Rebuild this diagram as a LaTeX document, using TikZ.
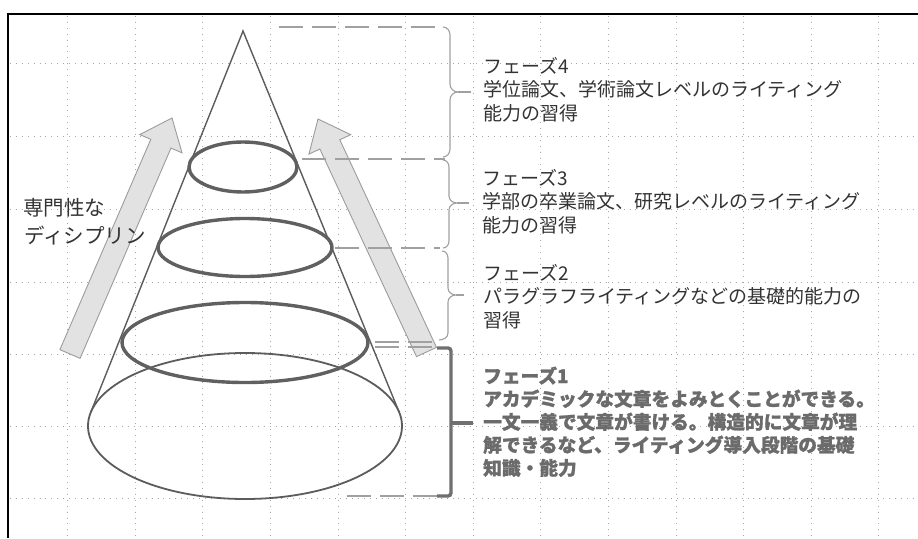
\documentclass[tikz,border=0pt]{standalone}
\usepackage{fontspec}
\usetikzlibrary{calc}
\newfontfamily\jp{Noto Sans CJK JP}
\newfontfamily\jpheavy[BoldFeatures={FakeBold=1.2}]{Noto Sans CJK JP}
\definecolor{gridc}{HTML}{A8A8A8}
\definecolor{conec}{HTML}{5C5C5C}
\definecolor{ringc}{HTML}{606060}
\definecolor{arrfill}{HTML}{E2E2E2}
\definecolor{arrdraw}{HTML}{9C9C9C}
\definecolor{dashc}{HTML}{A0A0A0}
\definecolor{bracec}{HTML}{A0A0A0}
\definecolor{b1c}{HTML}{707070}
\definecolor{txtc}{HTML}{333333}
\definecolor{p1c}{HTML}{6B6B6B}
\tikzset{
  gridst/.style={gridc, line width=0.8pt, dash pattern=on 0.9pt off 5pt},
  conest/.style={conec, line width=1.4pt},
  ringst/.style={ringc, line width=3.4pt},
  basest/.style={conec, line width=1.8pt},
  arrowst/.style={fill=arrfill, draw=arrdraw, line width=0.9pt, line join=miter},
  dashst/.style={dashc, line width=1.1pt, dash pattern=on 24pt off 9pt},
  bracest/.style={bracec, line width=1.1pt},
  bonest/.style={b1c, line width=3.4pt},
  txt/.style={anchor=base west, inner sep=0pt, text=txtc, font=\jp\fontsize{19}{19}\selectfont},
  ptxt/.style={anchor=base west, inner sep=0pt, text=p1c, font=\jpheavy\bfseries\fontsize{18.7}{18.7}\selectfont},
  ltxt/.style={anchor=base west, inner sep=0pt, text=txtc, font=\jp\fontsize{20.5}{20.5}\selectfont},
}
\begin{document}
\begin{tikzpicture}[x=1pt,y=-1pt]
\useasboundingbox (0,0) rectangle (918,538);
\fill[white] (0,0) rectangle (918,538);
% grid
\foreach \gx in {67,135,202,270,338,405,473,540,608,676,743,811,878}
  \draw[gridst] (\gx,16) -- (\gx,538);
\foreach \gy in {63,136,209,282,354,426,498}
  \draw[gridst] (10,\gy) -- (918,\gy);
% frame
\draw[black, line width=2pt] (918,14) -- (8,14) -- (8,538);
% arrows
\coordinate (la0) at (70,354);
\coordinate (la1) at (172,118);
\coordinate (lah) at ($(la1)!28pt!(la0)$);
\draw[arrowst] ($(la0)!11pt!90:(la1)$) -- ($(lah)!11pt!-90:(la0)$) -- ($(lah)!23pt!-90:(la0)$) -- (la1) -- ($(lah)!23pt!90:(la0)$) -- ($(lah)!11pt!90:(la0)$) -- ($(la0)!11pt!-90:(la1)$) -- cycle;
\coordinate (ra0) at (426.5,352);
\coordinate (ra1) at (318,119);
\coordinate (rah) at ($(ra1)!28pt!(ra0)$);
\draw[arrowst] ($(ra0)!11pt!90:(ra1)$) -- ($(rah)!11pt!-90:(ra0)$) -- ($(rah)!23pt!-90:(ra0)$) -- (ra1) -- ($(rah)!23pt!90:(ra0)$) -- ($(rah)!11pt!90:(ra0)$) -- ($(ra0)!11pt!-90:(ra1)$) -- cycle;
% cone
\coordinate (apex) at (243,31);
\coordinate (tl) at (90.7,412.5);
\coordinate (tr) at (399.3,412.5);
\draw[conest] (tl) -- (apex) -- (tr);
\draw[basest] (245,426) ellipse [x radius=157pt, y radius=73pt];
\draw[ringst] (243,167) ellipse [x radius=54pt, y radius=25pt];
\draw[ringst] (245,247.5) ellipse [x radius=87pt, y radius=29pt];
\draw[ringst] (245,342.5) ellipse [x radius=123pt, y radius=40pt];
% dashed guide lines
\draw[dashst] (279,27) -- (443,27);
\draw[dashst] (302,159) -- (445,159);
\draw[dashst] (335,248) -- (440,248);
\draw[dashst] (375,342) -- (432,342);
\draw[dashst] (375,347) -- (437,347);
\draw[dashst] (347,496) -- (437,496);
% braces
\draw[bracest] (443,27) to[out=0,in=90] (450,35) -- (450,84) to[out=-90,in=180] (458,92) to[out=180,in=90] (450,100) -- (450,149) to[out=-90,in=0] (443,157);
\draw[bracest] (458,92) -- (471,92);
\draw[bracest] (443,160) to[out=0,in=90] (449,167) -- (449,196) to[out=-90,in=180] (457,203) to[out=180,in=90] (449,210) -- (449,241) to[out=-90,in=0] (443,248);
\draw[bracest] (457,203) -- (469,203);
\draw[bracest] (442,251) to[out=0,in=90] (448,258) -- (448,288) to[out=-90,in=180] (456,295) to[out=180,in=90] (448,302) -- (448,333) to[out=-90,in=0] (439,340);
\draw[bracest] (456,295) -- (464,295);
\draw[bonest, rounded corners=3pt] (437,348) -| (451,496) -- (437,496);
\draw[bonest] (451,423) -- (473,423);
% texts
\node[ltxt] (d1) at (23,215) {専門性な};
\node[ltxt] (d2) at (24,243.5) {ディシプリン};
\node[txt] (p4a) at (483,73) {フェーズ4};
\node[txt] (p4b) at (483,96.5) {学位論文、学術論文レベルのライティング};
\node[txt] (p4c) at (483,120) {能力の習得};
\node[txt] (p3a) at (482,185) {フェーズ3};
\node[txt] (p3b) at (482,208.5) {学部の卒業論文、研究レベルのライティング};
\node[txt] (p3c) at (482,232) {能力の習得};
\node[txt] (p2a) at (483,280) {フェーズ2};
\node[txt] (p2b) at (483,303.5) {パラグラフライティングなどの基礎的能力の};
\node[txt] (p2c) at (483,327) {習得};
\node[ptxt] (p1a) at (483,383) {フェーズ1};
\node[ptxt] (p1b) at (483,406) {アカデミックな文章をよみとくことができる。};
\node[ptxt] (p1c) at (483,429) {一文一義で文章が書ける。構造的に文章が理};
\node[ptxt] (p1d) at (483,452) {解できるなど、ライティング導入段階の基礎};
\node[ptxt] (p1e) at (483,475) {知識・能力};
\end{tikzpicture}
\end{document}
